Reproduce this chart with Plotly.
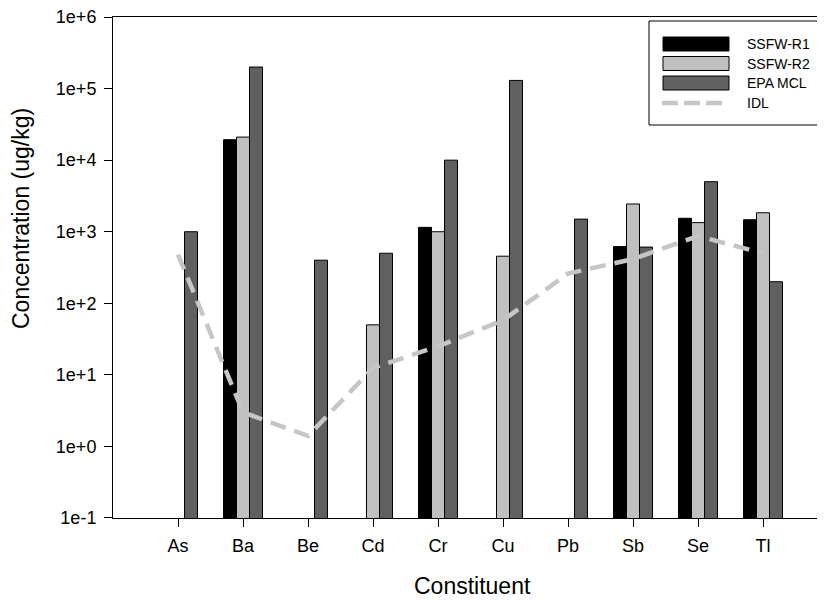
import plotly.graph_objects as go

# ---- data ----
constituents = ["As", "Ba", "Be", "Cd", "Cr", "Cu", "Pb", "Sb", "Se", "Tl"]
ssfw_r1 = [None, 19300, None, None, 1150, None, None, 620, 1540, 1470]
ssfw_r2 = [None, 21000, None, 50, 1000, 455, None, 2440, 1340, 1840]
epa_mcl = [1000, 200000, 400, 500, 10000, 130000, 1500, 610, 5000, 200]
idl = [480, 3.0, 1.4, 12.5, 25, 58, 260, 415, 870, 500]

ytick_vals = [1e-1, 1e0, 1e1, 1e2, 1e3, 1e4, 1e5, 1e6]
ytick_text = ["1e-1", "1e+0", "1e+1", "1e+2", "1e+3", "1e+4", "1e+5", "1e+6"]

series_names = ["SSFW-R1", "SSFW-R2", "EPA MCL", "IDL"]
bar_colors = ["#000000", "#c0c0c0", "#606060"]
idl_color = "#c6c6c6"

FONT = "Liberation Sans, Arial, sans-serif"

# page body has an 8px default margin; size the figure so it fits the window
OFF = 8
W, H = 825 - OFF, 604 - OFF
# plot area in window pixels: x 113..823, y 17..518
PL, PR, PT, PB = 113, 823, 17, 518
L, R, T, B = PL - OFF, (W + OFF) - PR, PT - OFF, (H + OFF) - PB
PW = PR - PL
PH = PB - PT


def px(x):
    return (x - PL) / PW


def py(y):
    return (PB - y) / PH


fig = go.Figure()
for name, vals, col in zip(series_names[:3], [ssfw_r1, ssfw_r2, epa_mcl], bar_colors):
    fig.add_trace(go.Bar(
        x=constituents, y=vals, name=name,
        marker=dict(color=col, line=dict(color="#000000", width=1)),
        showlegend=False,
    ))

fig.add_trace(go.Scatter(
    x=constituents, y=idl, name="IDL", mode="lines",
    line=dict(color=idl_color, width=4.5, dash="16px,9px"),
    showlegend=False,
))

# custom legend (large swatches like the original)
shapes = []
annotations = []
shapes.append(dict(type="rect", xref="paper", yref="paper",
                   x0=px(649), x1=px(822), y0=py(125), y1=py(21),
                   line=dict(color="#000000", width=1), fillcolor="white", layer="above"))
row_centers = [44, 63.5, 83, 103]
for i, (name, c) in enumerate(zip(series_names, row_centers)):
    if i < 3:
        shapes.append(dict(type="rect", xref="paper", yref="paper",
                           x0=px(663), x1=px(729), y0=py(c + 7), y1=py(c - 7),
                           line=dict(color="#000000", width=1), fillcolor=bar_colors[i],
                           layer="above"))
    else:
        shapes.append(dict(type="line", xref="paper", yref="paper",
                           x0=px(662), x1=px(722), y0=py(c), y1=py(c),
                           line=dict(color=idl_color, width=4.5, dash="16px,6px"),
                           layer="above"))
    annotations.append(dict(xref="paper", yref="paper", x=px(745), y=py(c),
                            text=name, showarrow=False, xanchor="left", yanchor="middle",
                            font=dict(family=FONT, size=14, color="#000000")))

# axis titles
annotations.append(dict(xref="paper", yref="paper", x=px(472), y=py(586),
                        text="Constituent", showarrow=False,
                        xanchor="center", yanchor="middle",
                        font=dict(family=FONT, size=23, color="#000000")))
annotations.append(dict(xref="paper", yref="paper", x=px(21), y=py(219),
                        text="Concentration (ug/kg)", showarrow=False, textangle=-90,
                        xanchor="center", yanchor="middle",
                        font=dict(family=FONT, size=23, color="#000000")))

fig.update_layout(
    width=W, height=H,
    margin=dict(l=L, r=R, t=T, b=B, pad=0, autoexpand=False),
    paper_bgcolor="white", plot_bgcolor="white",
    barmode="group", bargap=0.4, bargroupgap=0,
    font=dict(family=FONT, color="#000000"),
    shapes=shapes, annotations=annotations,
    showlegend=False,
)
fig.update_xaxes(
    type="category", range=[-1, -1 + PW / 65.0],
    showline=True, linecolor="#000000", linewidth=1, mirror=True,
    ticks="outside", ticklen=8, tickcolor="#000000", tickwidth=1,
    showgrid=False, zeroline=False, automargin=False,
    tickfont=dict(family=FONT, size=18, color="#000000"),
    ticklabelstandoff=3,
)
fig.update_yaxes(
    type="log", range=[-1.0001, 6.0001],
    tickvals=ytick_vals, ticktext=ytick_text,
    showline=True, linecolor="#000000", linewidth=1, mirror=False,
    ticks="outside", ticklen=8, tickcolor="#000000", tickwidth=1,
    showgrid=False, zeroline=False, automargin=False,
    tickfont=dict(family=FONT, size=18, color="#000000"),
    ticklabelstandoff=4, ticklabeloverflow="allow",
)

fig.write_html("out.html")
